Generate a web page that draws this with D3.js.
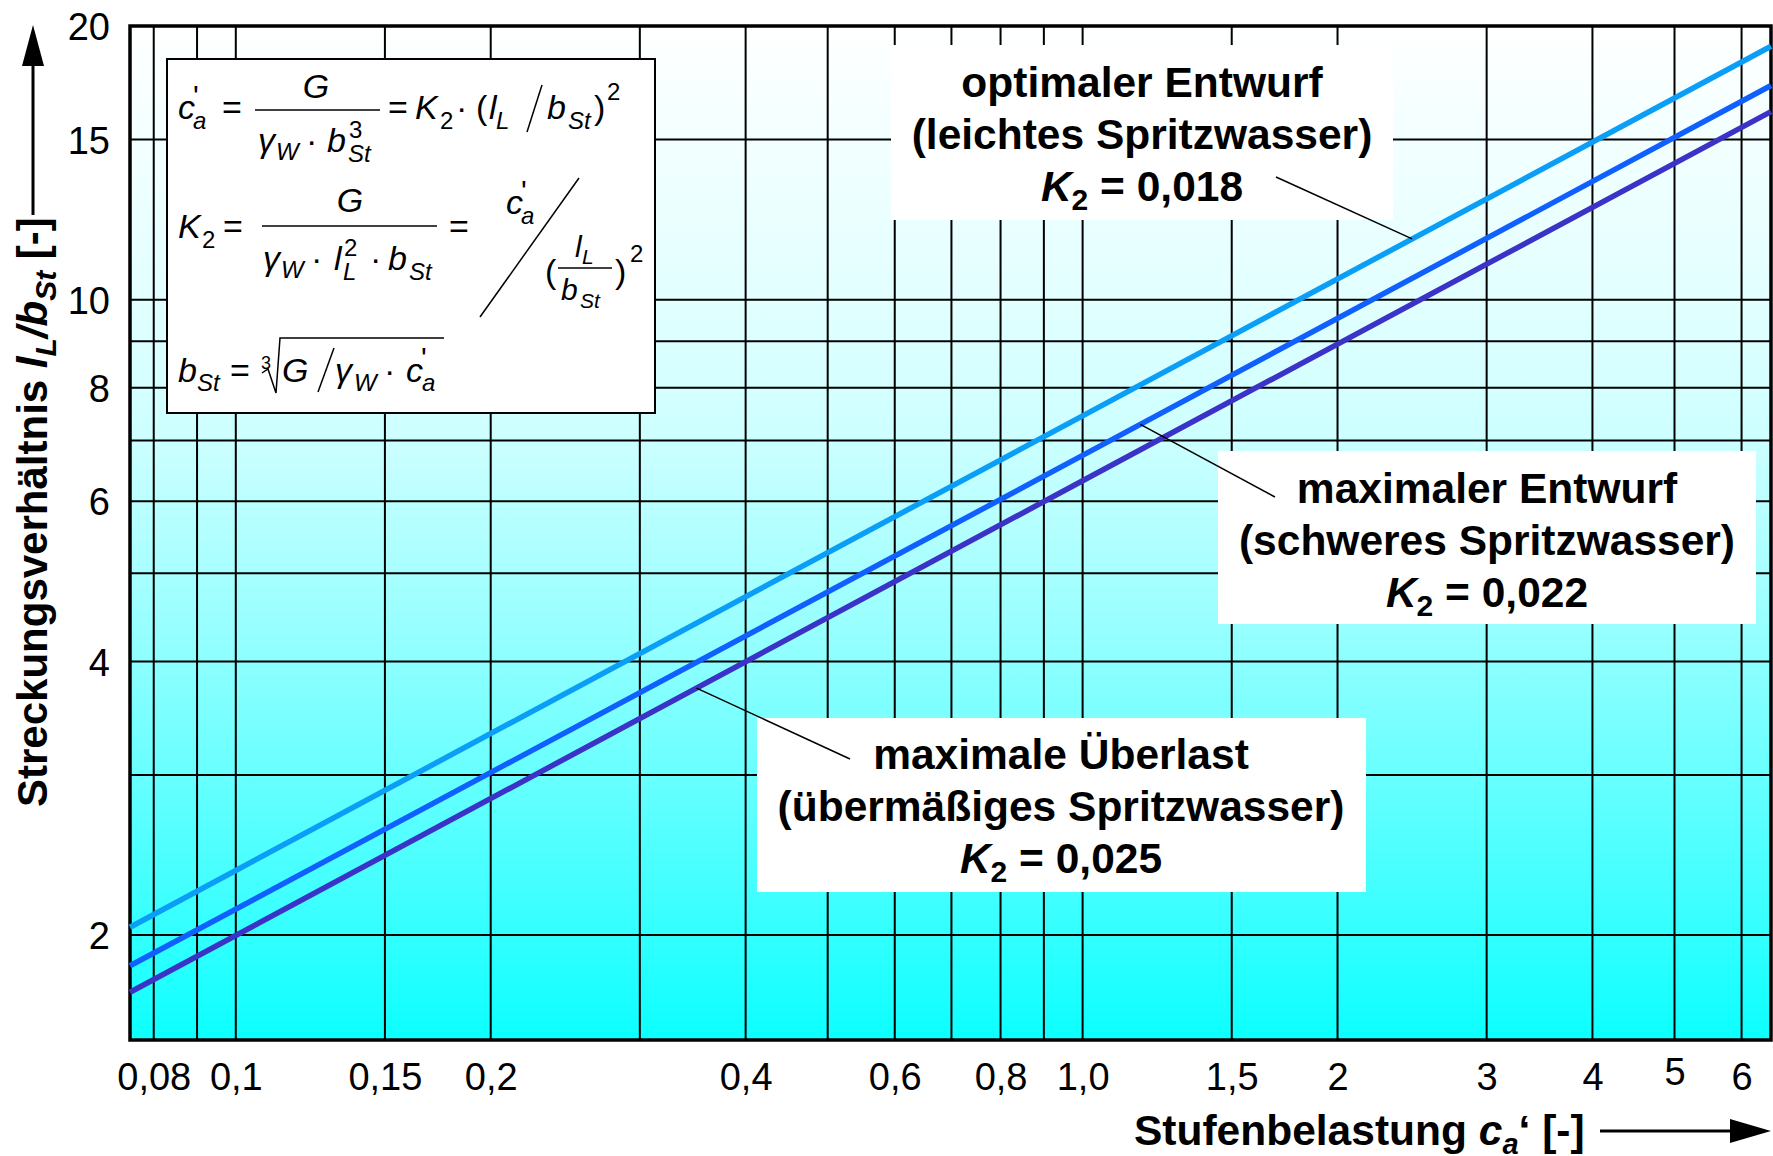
<!DOCTYPE html>
<html>
<head>
<meta charset="utf-8">
<script src="https://cdn.jsdelivr.net/npm/d3@7"></script>
<style>
  body { margin: 0; background: #fff; }
  text { font-family: "Liberation Sans", Arial, sans-serif; }
</style>
</head>
<body>
<div id="chart"></div>
<script>
// chart values
const xTicks = [0.08, 0.1, 0.15, 0.2, 0.4, 0.6, 0.8, 1.0, 1.5, 2, 3, 4, 5, 6];
const xTickLabels = ["0,08", "0,1", "0,15", "0,2", "0,4", "0,6", "0,8", "1,0", "1,5", "2", "3", "4", "5", "6"];
const xGrid = [0.08, 0.09, 0.1, 0.15, 0.2, 0.3, 0.4, 0.5, 0.6, 0.7, 0.8, 0.9, 1.0, 1.5, 2, 3, 4, 5, 6];
const yTicks = [2, 4, 6, 8, 10, 15, 20];
const yTickLabels = ["2", "4", "6", "8", "10", "15", "20"];
const yGrid = [2, 3, 4, 5, 6, 7, 8, 9, 10, 15];

const caValues = [0.075, 1.0, 6.5];
const ratioOptimal = [2.04, 7.45, 19.0];      // K2 = 0,018
const ratioMaxDesign = [1.85, 6.74, 17.2];    // K2 = 0,022
const ratioMaxOverload = [1.73, 6.32, 16.1];  // K2 = 0,025
const seriesColors = ["#0a9ef7", "#1060ff", "#3b33c8"];
const leaderAt = [2.45, 1.17, 0.35];           // where the label lines touch the curves

const W = 1773, H = 1156;
const margin = { top: 26, right: 2, bottom: 116, left: 130 };

const svg = d3.select("#chart").append("svg")
    .attr("width", W)
    .attr("height", H);

const x = d3.scaleLog().domain([0.075, 6.5]).range([margin.left, W - margin.right]);
const y = d3.scaleLog().domain([1.533, 20]).range([H - margin.bottom, margin.top]);

// background gradient, white at top to cyan at the bottom
const grad = svg.append("defs").append("linearGradient")
    .attr("id", "bg").attr("x1", 0).attr("y1", 0).attr("x2", 0).attr("y2", 1);
[[0, "#ffffff"], [0.27, "#e2ffff"], [0.41, "#ccffff"], [0.59, "#99ffff"],
 [0.66, "#82ffff"], [0.86, "#40ffff"], [1, "#0cffff"]].forEach(s => {
    grad.append("stop").attr("offset", s[0]).attr("stop-color", s[1]);
});

svg.append("rect")
    .attr("x", x.range()[0]).attr("y", y.range()[1])
    .attr("width", x.range()[1] - x.range()[0])
    .attr("height", y.range()[0] - y.range()[1])
    .attr("fill", "url(#bg)");

// grid
svg.append("g").selectAll("line")
    .data(xGrid).enter().append("line")
    .attr("x1", d => x(d)).attr("x2", d => x(d))
    .attr("y1", y.range()[1]).attr("y2", y.range()[0])
    .attr("stroke", "#000").attr("stroke-width", 2);

svg.append("g").selectAll("line")
    .data(yGrid).enter().append("line")
    .attr("x1", x.range()[0]).attr("x2", x.range()[1])
    .attr("y1", d => y(d)).attr("y2", d => y(d))
    .attr("stroke", "#000").attr("stroke-width", 2);

// frame
svg.append("rect")
    .attr("x", x.range()[0]).attr("y", y.range()[1])
    .attr("width", x.range()[1] - x.range()[0])
    .attr("height", y.range()[0] - y.range()[1])
    .attr("fill", "none").attr("stroke", "#000").attr("stroke-width", 3.5);

// axes (labels only)
const xAxis = svg.append("g")
    .attr("transform", `translate(0,${y.range()[0]})`)
    .call(d3.axisBottom(x).tickValues(xTicks).tickFormat((d, i) => xTickLabels[i]).tickSize(0));
xAxis.select(".domain").remove();
xAxis.selectAll("text")
    .attr("y", d => d === 5 ? 45 : 50).attr("dy", null)
    .style("font-size", "38px").style("font-family", "Liberation Sans, Arial, sans-serif")
    .attr("fill", "#000");

const yAxis = svg.append("g")
    .attr("transform", `translate(${x.range()[0]},0)`)
    .call(d3.axisLeft(y).tickValues(yTicks).tickFormat((d, i) => yTickLabels[i]).tickSize(0).tickPadding(20));
yAxis.select(".domain").remove();
yAxis.selectAll("text")
    .attr("dy", "0.36em")
    .style("font-size", "38px").style("font-family", "Liberation Sans, Arial, sans-serif")
    .attr("fill", "#000");

// curves
const series = [ratioOptimal, ratioMaxDesign, ratioMaxOverload];
const line = d3.line().x(d => x(d[0])).y(d => y(d[1]));
series.forEach((vals, i) => {
    svg.append("path")
        .datum(caValues.map((c, j) => [c, vals[j]]))
        .attr("d", line)
        .attr("fill", "none")
        .attr("stroke", seriesColors[i])
        .attr("stroke-width", 5.5);
});

// value on a curve (straight in log-log) for the label lines
function onCurve(vals, c) {
    const lx = caValues.map(Math.log), ly = vals.map(Math.log);
    const k = Math.log(c) < lx[1] ? 0 : 1;
    const t = (Math.log(c) - lx[k]) / (lx[k + 1] - lx[k]);
    return Math.exp(ly[k] + t * (ly[k + 1] - ly[k]));
}

// label boxes
const labels = [
    { box: [891, 45, 502, 175], cx: 1142, y0: 97, l1: "optimaler Entwurf", l2: "(leichtes Spritzwasser)", k: "0,018", from: [1276, 177] },
    { box: [1218, 451, 538, 173], cx: 1487, y0: 503, l1: "maximaler Entwurf", l2: "(schweres Spritzwasser)", k: "0,022", from: [1275, 497] },
    { box: [757, 718, 609, 174], cx: 1061, y0: 769, l1: "maximale Überlast", l2: "(übermäßiges Spritzwasser)", k: "0,025", from: [850, 759] }
];

labels.forEach((L, i) => {
    svg.append("rect")
        .attr("x", L.box[0]).attr("y", L.box[1])
        .attr("width", L.box[2]).attr("height", L.box[3])
        .attr("fill", "#fff");
    const t = svg.append("g")
        .attr("font-weight", "bold").attr("font-size", 42.5)
        .attr("text-anchor", "middle");
    t.append("text").attr("x", L.cx).attr("y", L.y0).text(L.l1);
    t.append("text").attr("x", L.cx).attr("y", L.y0 + 52).text(L.l2);
    const k = t.append("text").attr("x", L.cx).attr("y", L.y0 + 104);
    k.append("tspan").attr("font-style", "italic").text("K");
    k.append("tspan").attr("font-size", 30).attr("dy", 9).text("2");
    k.append("tspan").attr("dy", -9).text(" = " + L.k);
    const c = leaderAt[i];
    svg.append("line")
        .attr("x1", L.from[0]).attr("y1", L.from[1])
        .attr("x2", x(c)).attr("y2", y(onCurve(series[i], c)))
        .attr("stroke", "#000").attr("stroke-width", 1.5);
});

// formula box
svg.append("rect")
    .attr("x", 167).attr("y", 59).attr("width", 488).attr("height", 354)
    .attr("fill", "#fff").attr("stroke", "#000").attr("stroke-width", 2);

const f = svg.append("g").attr("fill", "#000");
function ft(px, py, s, size, it, anchor) {
    f.append("text").attr("x", px).attr("y", py)
        .attr("font-size", size || 34)
        .attr("font-style", it ? "italic" : "normal")
        .attr("text-anchor", anchor || "start")
        .text(s);
}
function fl(x1, y1, x2, y2, w) {
    f.append("line").attr("x1", x1).attr("y1", y1).attr("x2", x2).attr("y2", y2)
        .attr("stroke", "#000").attr("stroke-width", w || 1.5);
}
// line 1: c'a = G / (γW · b³St) = K2 · (lL / bSt)²
ft(178, 119, "c", 34, true); ft(193, 106, "'", 30); ft(193, 129, "a", 24, true);
ft(222, 119, "=");
ft(316, 98, "G", 34, true, "middle"); fl(255, 110, 380, 110);
ft(258, 152, "γ", 34, true); ft(276, 160, "W", 24, true); ft(306, 152, "·");
ft(327, 152, "b", 34, true); ft(349, 138, "3", 24); ft(348, 162, "St", 24, true);
ft(388, 119, "=");
ft(415, 119, "K", 34, true); ft(440, 129, "2", 24); ft(456, 119, "·");
ft(476, 119, "("); ft(489, 119, "l", 34, true); ft(496, 129, "L", 24, true);
fl(527, 132, 542, 85);
ft(547, 119, "b", 34, true); ft(568, 129, "St", 24, true);
ft(594, 119, ")"); ft(607, 100, "2", 24);
// line 2: K2 = G / (γW · l²L · bSt) = c'a ⁄ (lL/bSt)²
ft(178, 238, "K", 34, true); ft(202, 248, "2", 24);
ft(223, 238, "=");
ft(350, 212, "G", 34, true, "middle"); fl(262, 226, 437, 226);
ft(263, 270, "γ", 34, true); ft(281, 278, "W", 24, true); ft(311, 270, "·");
ft(334, 270, "l", 34, true); ft(344, 256, "2", 24); ft(343, 280, "L", 24, true);
ft(370, 270, "·");
ft(388, 270, "b", 34, true); ft(409, 280, "St", 24, true);
ft(449, 238, "=");
ft(506, 214, "c", 34, true); ft(521, 201, "'", 30); ft(521, 224, "a", 24, true);
fl(480, 317, 579, 178);
ft(545, 283, "("); ft(575, 257, "l", 30, true); ft(582, 264, "L", 21, true);
fl(558, 268, 612, 268);
ft(561, 300, "b", 30, true); ft(580, 308, "St", 21, true);
ft(615, 283, ")"); ft(630, 262, "2", 24);
// line 3: bSt = ³√(G / γW · c'a)
ft(178, 382, "b", 34, true); ft(197, 391, "St", 24, true);
ft(230, 382, "=");
ft(261, 369, "3", 18);
f.append("path").attr("d", "M262,373 L268,369 L276,393 L280,338 L444,338")
    .attr("fill", "none").attr("stroke", "#000").attr("stroke-width", 1.5);
ft(282, 382, "G", 34, true);
fl(318, 392, 334, 348);
ft(335, 382, "γ", 34, true); ft(354, 391, "W", 24, true);
ft(384, 382, "·");
ft(406, 382, "c", 34, true); ft(421, 368, "'", 30); ft(422, 391, "a", 24, true);

// axis titles with arrows
const yt = svg.append("text")
    .attr("transform", "translate(47,807) rotate(-90)")
    .attr("font-weight", "bold").attr("font-size", 42);
yt.append("tspan").text("Streckungsverhältnis ");
yt.append("tspan").attr("font-style", "italic").text("l");
yt.append("tspan").attr("font-style", "italic").attr("font-size", 30).attr("dy", 9).text("L");
yt.append("tspan").attr("font-style", "italic").attr("dy", -9).text("/b");
yt.append("tspan").attr("font-style", "italic").attr("font-size", 30).attr("dy", 9).text("St");
yt.append("tspan").attr("dy", -9).text(" [-]");

svg.append("line").attr("x1", 33).attr("y1", 215).attr("x2", 33).attr("y2", 62)
    .attr("stroke", "#000").attr("stroke-width", 3);
svg.append("path").attr("d", "M22,66 L33,25 L44,66 Z").attr("fill", "#000");

const xt = svg.append("text")
    .attr("x", 1134).attr("y", 1145)
    .attr("font-weight", "bold").attr("font-size", 42.5);
xt.append("tspan").text("Stufenbelastung ");
xt.append("tspan").attr("font-style", "italic").text("c");
xt.append("tspan").attr("font-style", "italic").attr("font-size", 29).attr("dy", 9).text("a");
xt.append("tspan").attr("dy", -9).text("‘ [-]");

svg.append("line").attr("x1", 1600).attr("y1", 1131).attr("x2", 1734).attr("y2", 1131)
    .attr("stroke", "#000").attr("stroke-width", 3);
svg.append("path").attr("d", "M1730,1119 L1771,1131 L1730,1143 Z").attr("fill", "#000");
</script>
</body>
</html>
